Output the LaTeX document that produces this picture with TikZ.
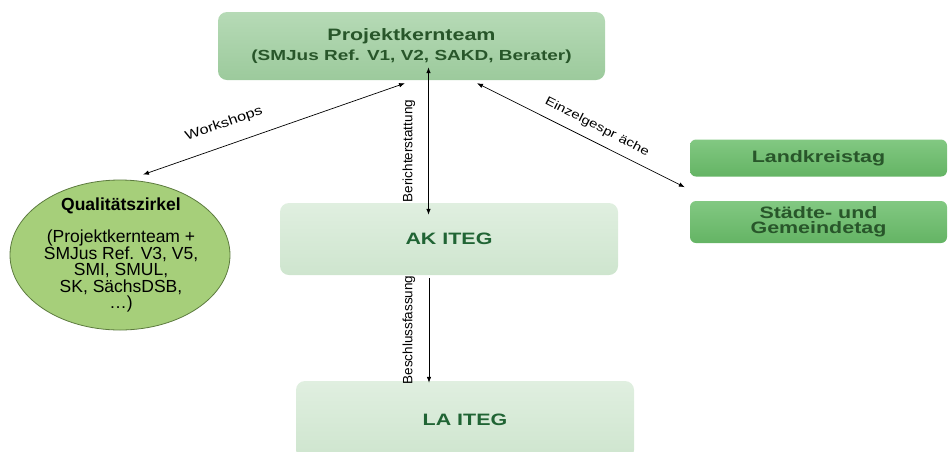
\documentclass[tikz,border=0pt]{standalone}
\usepackage{fontspec}
\setmainfont{Liberation Sans}
\newfontfamily\boxfont[FakeStretch=1.3]{Liberation Sans Bold}
\newfontfamily\lblfont[FakeStretch=1.25]{Liberation Sans}
\usetikzlibrary{arrows.meta,shapes.geometric}
\definecolor{pkgreen}{RGB}{156,202,156}
\definecolor{pktop}{RGB}{182,218,182}
\definecolor{itegtop}{RGB}{224,239,224}
\definecolor{itegbot}{RGB}{206,229,206}
\definecolor{lktop}{RGB}{130,200,130}
\definecolor{lkbot}{RGB}{100,180,100}
\definecolor{darktext}{RGB}{40,86,42}
\definecolor{itegtext}{RGB}{32,100,52}
\definecolor{qzfill}{RGB}{166,207,122}
\definecolor{qzline}{RGB}{92,122,62}
\begin{document}
\begin{tikzpicture}[x=1pt,y=-1pt,
    >={Latex[length=6pt,width=4.5pt]},
    conn/.style={line width=0.7pt},
    greenbox/.style={rounded corners=9pt, inner sep=0pt, align=center,
      font=\boxfont\fontsize{16.5}{15.5}\selectfont},
    pkbox/.style={greenbox, top color=pktop, bottom color=pkgreen,
      text=darktext, font=\boxfont\fontsize{16.5}{20}\selectfont},
    itegbox/.style={greenbox, top color=itegtop, bottom color=itegbot, text=itegtext},
    gremium/.style={greenbox, rounded corners=6pt, top color=lktop, bottom color=lkbot, text=darktext},
    lbl/.style={inner sep=0pt, font=\lblfont\fontsize{13}{13}\selectfont},
    vlbl/.style={inner sep=0pt, font=\fontsize{13.5}{13.5}\selectfont}]
  \useasboundingbox (0,0) rectangle (948,451);
  \clip (0,0) rectangle (948,451);

  % boxes
  \node[pkbox, minimum width=387pt, minimum height=68pt] (pk) at (411.5,46)
    {Projektkernteam\\{\fontsize{14.6}{20}\selectfont (SMJus Ref. V1, V2, SAKD, Berater)}};
  \node[itegbox, minimum width=338pt, minimum height=72pt] (ak) at (449,239) {AK ITEG};
  \node[itegbox, minimum width=338pt, minimum height=78pt] (la) at (465,420) {LA ITEG};
  \node[gremium, minimum width=257pt, minimum height=37pt] (lk) at (818.5,158) {Landkreistag};
  \node[gremium, minimum width=257pt, minimum height=42pt] (sg) at (818.5,222) {Städte- und\\Gemeindetag};
  \node[ellipse, fill=qzfill, draw=qzline, line width=0.8pt, inner sep=0pt,
    minimum width=220pt, minimum height=150pt] (qz) at (120,255) {};
  \node[align=center, inner sep=0pt, font=\fontsize{17.5}{16.5}\selectfont] (qztext) at (121,255)
    {\textbf{Qualitätszirkel}\\[16pt](Projektkernteam +\\SMJus Ref. V3, V5,\\SMI, SMUL,\\SK, SächsDSB,\\…)};

  % connectors
  \draw[conn, <->] ([xshift=-6.5pt,yshift=-3pt]pk.south) -- ([xshift=23pt,yshift=5pt]qz.north);
  \draw[conn, <->] ([xshift=17pt,yshift=13pt]pk.south) -- ([xshift=-20.5pt,yshift=-12pt]ak.north);
  \draw[conn, <->] ([xshift=65.5pt,yshift=-3pt]pk.south) -- ([xshift=-5pt,yshift=-10.5pt]lk.south west);
  \draw[conn, ->] ([xshift=-20pt,yshift=-3pt]ak.south) -- ([xshift=-36pt,yshift=-2pt]la.north);

  % labels
  \node[lbl, rotate=19.4] (workshops) at (224,124) {Workshops};
  \node[vlbl, rotate=90] (bericht) at (409,151) {Berichterstattung};
  \node[lbl, rotate=-27, font=\lblfont\fontsize{12}{12}\selectfont] (einzel) at (597,127) {Einzelgespr äche};
  \node[vlbl, rotate=90] (beschluss) at (409,330) {Beschlussfassung};
\end{tikzpicture}
\end{document}
